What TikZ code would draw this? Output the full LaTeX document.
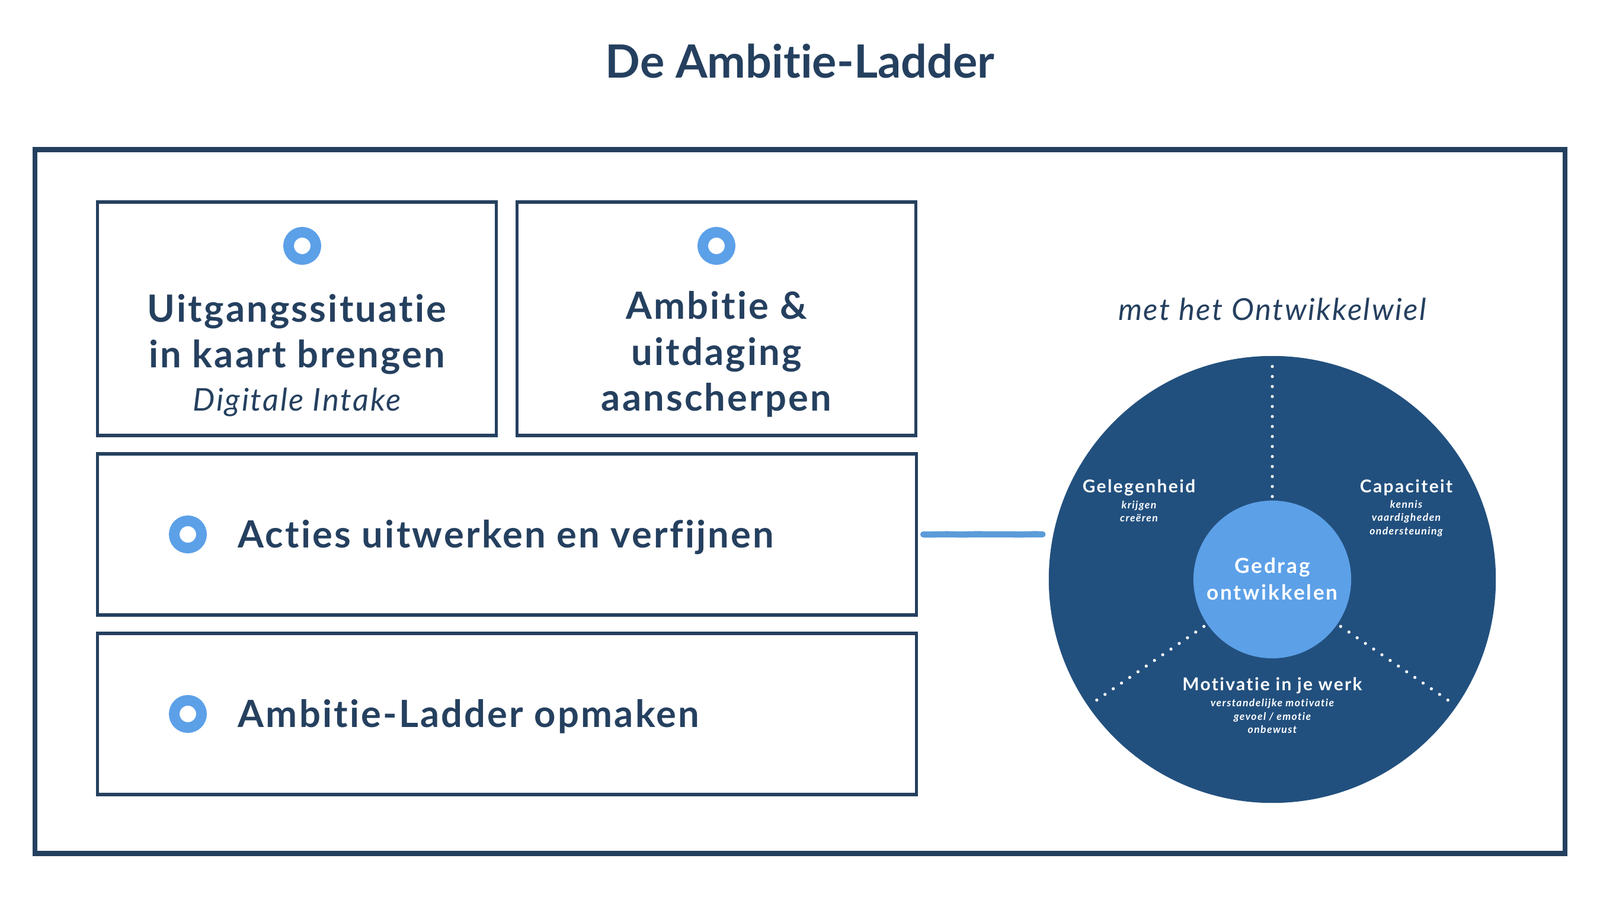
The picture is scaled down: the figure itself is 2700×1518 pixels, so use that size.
\documentclass[tikz,border=0pt]{standalone}
\usepackage{fontspec}
\setmainfont[Ligatures=NoCommon]{Lato}
\newfontfamily\boxfont[LetterSpace=5, Ligatures=NoCommon]{Lato}
\newfontfamily\wheelfont[LetterSpace=8, Ligatures=NoCommon]{Lato}
\usepackage{tikz}
\usetikzlibrary{decorations.pathmorphing}

\definecolor{navy}{HTML}{25405F}
\definecolor{wheelblue}{HTML}{22507E}
\definecolor{lightblue}{HTML}{5CA0E8}
\definecolor{linkblue}{HTML}{5B9BD8}

\begin{document}
\begin{tikzpicture}[x=0.01cm, y=0.01cm,
    ladderbox/.style={draw=navy, line width=1.5pt, minimum width=6.72cm, minimum height=3.94cm},
    widebox/.style={draw=navy, line width=1.5pt, minimum width=13.81cm, minimum height=2.72cm},
    ring/.style={draw=lightblue, line width=5.1pt},
    boxtext/.style={text=navy, font=\boxfont\bfseries\fontsize{18}{22}\selectfont, align=center, inner sep=0pt},
    spoke/.style={white, line width=1.5pt, line cap=round, dash pattern=on 0pt off 4.8pt},
    wheeltitle/.style={text=white, font=\wheelfont\bfseries\fontsize{8.5}{10}\selectfont, inner sep=0pt},
    wheelsub/.style={text=white, font=\wheelfont\bfseries\itshape\fontsize{5}{6.4}\selectfont, align=center, inner sep=0pt},
    link/.style={linkblue, line width=3pt, line cap=round,
        decorate, decoration={random steps, segment length=7pt, amplitude=0.15pt}}
]
    \useasboundingbox (0,0) rectangle (2700,1518);

    % title and frame
    \node[text=navy, font=\bfseries\fontsize{22}{26}\selectfont] (title) at (1350,1415) {De Ambitie-Ladder};
    \node[draw=navy, line width=2.4pt, minimum width=25.8cm, minimum height=11.87cm] (frame) at (1350,671.5) {};

    % the four steps
    \node[ladderbox] (intake) at (501,980) {};
    \node[ladderbox] (ambitie) at (1209,980) {};
    \node[widebox] (acties) at (855.5,616) {};
    \node[widebox] (opmaken) at (855.5,313) {};

    \draw[ring] (510,1103) circle (23);
    \draw[ring] (1209,1103) circle (23);
    \draw[ring] (317,616) circle (23);
    \draw[ring] (317,313) circle (23);

    \node[boxtext] (intaketxt) at (501,918) {Uitgangssituatie\\in kaart brengen\\[-1.3pt]
        {\mdseries\itshape\fontsize{15}{18}\selectfont Digitale Intake}};
    \node[boxtext] (ambitietxt) at (1209,920) {Ambitie \&\\uitdaging\\aanscherpen};
    \node[boxtext, anchor=base west] (actiestxt) at (401,593) {Acties uitwerken en verfijnen};
    \node[boxtext, anchor=base west] (opmakentxt) at (401,290) {Ambitie-Ladder opmaken};

    % ontwikkelwiel
    \node[text=navy, font=\boxfont\itshape\fontsize{14.5}{18}\selectfont] (wieltitel) at (2147,996) {met het Ontwikkelwiel};
    \node[circle, fill=wheelblue, inner sep=0pt, minimum size=7.54cm] (wheel) at (2147,540) {};
    \foreach \a in {90,214.5,325.5}
        \draw[spoke] (wheel.center) ++(\a:140) -- ++(\a:226);
    \node[circle, fill=lightblue, inner sep=0pt, minimum size=2.66cm] (core) at (2147,540) {};
    \node[text=white, font=\wheelfont\bfseries\fontsize{10}{12.8}\selectfont, align=center, inner sep=0pt] (gedrag) at (2147,541) {Gedrag\\ontwikkelen};

    \node[wheeltitle] (gelegenheid) at (1922,695) {Gelegenheid};
    \node[wheelsub] (gelsub) at (1922,655) {krijgen\\creëren};
    \node[wheeltitle] (capaciteit) at (2373,695) {Capaciteit};
    \node[wheelsub] (capsub) at (2373,643) {kennis\\vaardigheden\\ondersteuning};
    \node[wheeltitle] (motivatie) at (2147,361) {Motivatie in je werk};
    \node[wheelsub] (motsub) at (2147,309) {verstandelijke motivatie\\gevoel / emotie\\onbewust};

    \draw[link, shorten <=2.6pt, shorten >=2.8pt] (acties.east) -- (acties.east -| wheel.west);
\end{tikzpicture}
\end{document}
